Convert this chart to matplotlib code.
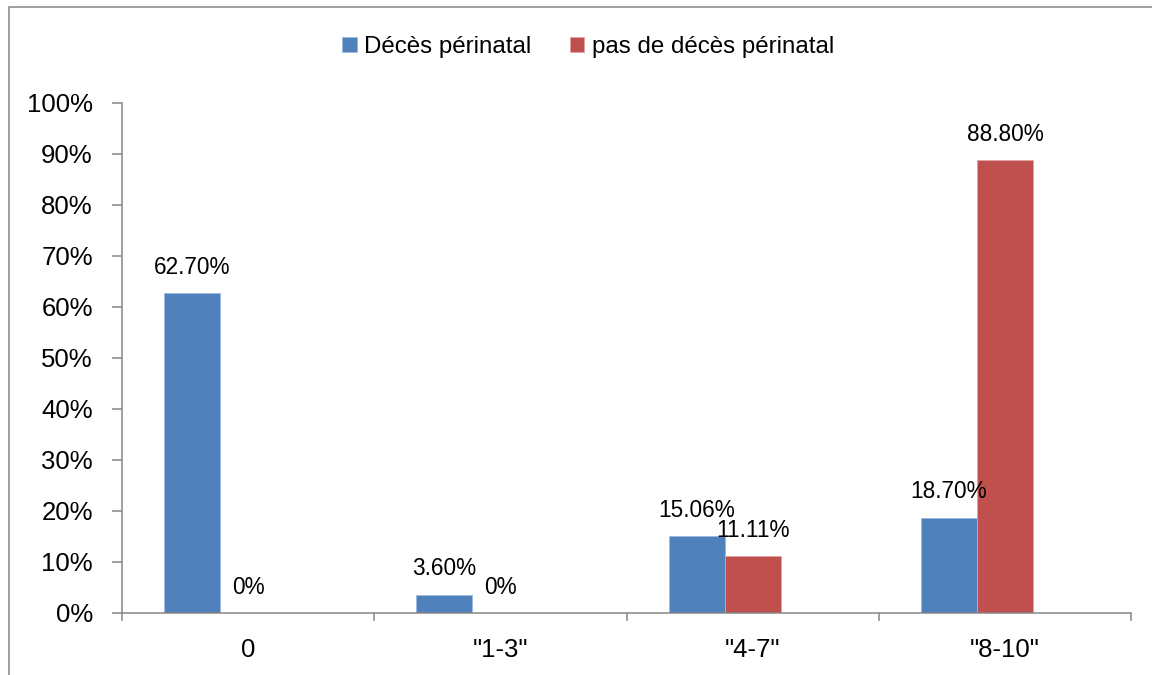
import matplotlib.pyplot as plt
import matplotlib.patches as mpatches
import numpy as np

# data
categories = ['0', '"1-3"', '"4-7"', '"8-10"']
deces = [62.70, 3.60, 15.06, 18.70]
pas_deces = [0, 0, 11.11, 88.80]
deces_labels = ['62.70%', '3.60%', '15.06%', '18.70%']
pas_deces_labels = ['0%', '0%', '11.11%', '88.80%']
yticks = np.arange(0, 101, 10)

plt.rcParams['font.family'] = ['Liberation Sans', 'DejaVu Sans']

blue = '#4F81BD'
red = '#C0504D'
grey = '#868686'

fig = plt.figure(figsize=(11.52, 6.75), dpi=100)
ax = fig.add_axes([0.1059, 0.0919, 0.8759, 0.7556])

# excel layout: 3 slots per group (third series empty), gap width 150%
w = 1 / 4.5
x = np.arange(len(categories))
b1 = ax.bar(x - w, deces, w, color=blue, edgecolor='#9db8dc', linewidth=0.6,
            label='Décès périnatal')
b2 = ax.bar(x, pas_deces, w, color=red, edgecolor='#e0a3a1', linewidth=0.6,
            label='pas de décès périnatal')

for xi, v, t in zip(x - w, deces, deces_labels):
    ax.annotate(t, (xi, v), xytext=(0, 14), textcoords='offset points',
                ha='center', va='baseline', fontsize=16.3)
for xi, v, t in zip(x, pas_deces, pas_deces_labels):
    ax.annotate(t, (xi, v), xytext=(0, 14), textcoords='offset points',
                ha='center', va='baseline', fontsize=16.3)

ax.set_xlim(-0.5, len(categories) - 0.5)
ax.set_ylim(0, 100)
ax.set_yticks(yticks)
ax.set_yticklabels([f'{v}%' for v in yticks])
ax.set_xticks(x)
ax.set_xticklabels(categories)
ax.set_xticks(np.arange(-0.5, len(categories)), minor=True)

ax.tick_params(axis='y', length=7, width=1.1, color=grey, pad=14,
               labelsize=18.5, direction='out')
ax.tick_params(axis='x', which='major', length=0, pad=18, labelsize=18.5)
ax.tick_params(axis='x', which='minor', length=6, width=1.1, color=grey,
               direction='out')

for s in ['top', 'right']:
    ax.spines[s].set_visible(False)
for s in ['left', 'bottom']:
    ax.spines[s].set_color(grey)
    ax.spines[s].set_linewidth(1.1)

fig.legend(handles=[b1, b2], loc='center', bbox_to_anchor=(588 / 1152, 0.930),
           ncol=2, frameon=False, fontsize=17.4, handlelength=0.6,
           handleheight=0.6, handletextpad=0.3, columnspacing=1.6)

# chart area border (only top and left show in the original crop)
fig.patches.append(mpatches.Rectangle((9 / 1152, -0.1), 1.2, 1.1 - 7 / 675,
                                      transform=fig.transFigure, fill=False,
                                      edgecolor=grey, linewidth=1.1))

fig.savefig('out.png', dpi=100)
